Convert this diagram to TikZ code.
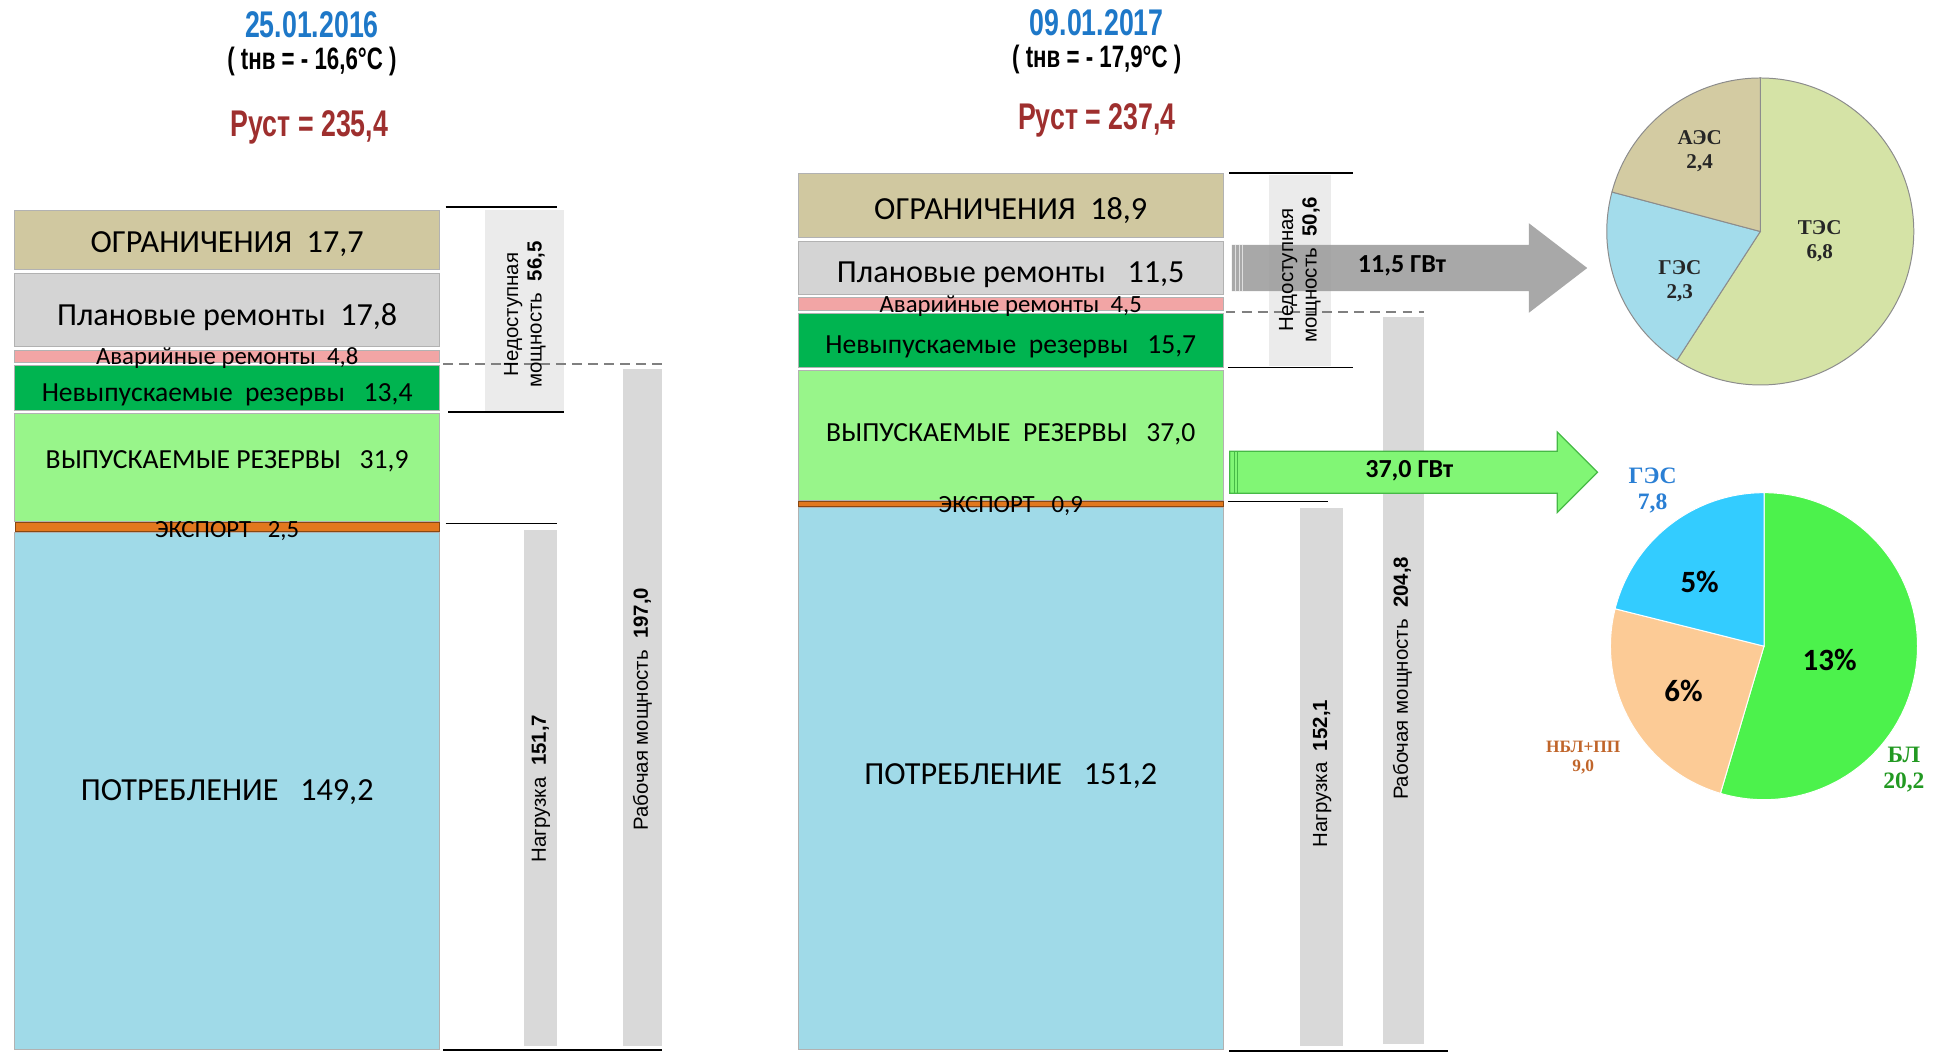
\documentclass[tikz,border=0pt]{standalone}
\usepackage{fontspec}
\setmainfont{Carlito}
\setsansfont{Liberation Sans}
\newfontfamily\condfont[FakeStretch=0.72]{Liberation Sans}
\newfontfamily\serifbold{Liberation Serif}
\usetikzlibrary{shapes.arrows}

\definecolor{tanc}{HTML}{D0C8A0}
\definecolor{grayc}{HTML}{D4D4D4}
\definecolor{pinkc}{HTML}{F2A5A5}
\definecolor{dgreen}{HTML}{00B450}
\definecolor{lgreen}{HTML}{98F58A}
\definecolor{orangec}{HTML}{E2781E}
\definecolor{blueseg}{HTML}{A0DAE8}
\definecolor{boxc}{HTML}{EBEBEB}
\definecolor{barc}{HTML}{D9D9D9}
\definecolor{titleblue}{HTML}{1E78C8}
\definecolor{rustred}{HTML}{9E2F2E}
\definecolor{tes}{HTML}{D5E3A6}
\definecolor{ges}{HTML}{A3DCEB}
\definecolor{aes}{HTML}{D3CBA2}
\definecolor{bl}{HTML}{4CF24C}
\definecolor{nbl}{HTML}{FCCB96}
\definecolor{gesb}{HTML}{33CCFF}
\definecolor{gesl}{HTML}{2A7FD4}
\definecolor{nbll}{HTML}{C0652A}
\definecolor{bll}{HTML}{229922}

\tikzstyle{seg}=[draw=black!30,line width=0.8]
\tikzstyle{big}=[font=\fontsize{26}{30}\selectfont]
\tikzstyle{mid}=[font=\fontsize{22.3}{26}\selectfont]
\tikzstyle{small}=[font=\fontsize{20}{23}\selectfont]
\tikzstyle{date}=[text=titleblue,font=\condfont\bfseries\fontsize{30}{34}\selectfont]
\tikzstyle{temp}=[font=\condfont\bfseries\fontsize{25}{28}\selectfont]
\tikzstyle{rust}=[text=rustred,font=\condfont\bfseries\fontsize{30}{34}\selectfont]
\tikzstyle{brk}=[line width=1.3]
\tikzstyle{lvl}=[draw=black!50,line width=1.3,dash pattern=on 8pt off 5pt]
\tikzstyle{vbox}=[fill=boxc]
\tikzstyle{vbar}=[fill=barc]
\tikzstyle{vtext}=[rotate=90,font=\sffamily\fontsize{16.5}{19}\selectfont,align=center,inner sep=0]
\tikzstyle{garrow}=[single arrow,fill=black!38,fill opacity=0.9,text opacity=1,inner xsep=0,inner ysep=10.5,
  text height=12,text depth=4,single arrow head extend=17.5,single arrow tip angle=75,anchor=tail,
  font=\bfseries\fontsize{21}{24}\selectfont]
\tikzstyle{larrow}=[single arrow,fill=lgreen!85!green,draw=green!45!gray,line width=1,inner xsep=0,inner ysep=8.5,
  text height=12,text depth=4,single arrow head extend=15.5,single arrow tip angle=90,anchor=tail,
  font=\bfseries\fontsize{21}{24}\selectfont]
\tikzstyle{slice}=[line width=0.8]
\tikzstyle{pielbl}=[font=\serifbold\bfseries\fontsize{17}{19}\selectfont,align=center,inner sep=0]
\tikzstyle{pct}=[font=\bfseries\fontsize{25}{28}\selectfont,inner sep=0]

\begin{document}
\begin{tikzpicture}[x=1pt,y=-1pt]
  \useasboundingbox (0,0) rectangle (1568,850);

  \node[date] (D1) at (252,20) {25.01.2016};
  \node[temp] (T1) at (252,50) {( tнв = - 16,6°C )};
  \node[rust] (R1) at (250,103) {Руст = 235,4};

  \node[date] (D2) at (886,18) {09.01.2017};
  \node[temp] (T2) at (886,48) {( tнв = - 17,9°C )};
  \node[rust] (R2) at (886,97) {Руст = 237,4};

  \draw[seg,fill=tanc] (12,170) rectangle node[big,yshift=-3] (O1) {ОГРАНИЧЕНИЯ\ \ 17,7} (355,218);
  \draw[seg,fill=grayc] (12,221) rectangle node[big,yshift=-5.5] (P1) {Плановые ремонты\ \ 17,8} (355,280);
  \draw[seg,fill=dgreen] (12,295) rectangle node[mid,yshift=-5.5] (N1) {Невыпускаемые\ \ резервы\ \ \ 13,4} (355,332);
  \draw[seg,fill=lgreen] (12,334) rectangle node[mid,yshift=4.5] (V1) {ВЫПУСКАЕМЫЕ РЕЗЕРВЫ\ \ \ 31,9} (355,421);
  \draw[seg,fill=blueseg] (12,430) rectangle node[big,yshift=-1] (C1) {ПОТРЕБЛЕНИЕ\ \ \ 149,2} (355,848);
  \draw[seg,fill=pinkc] (12,283) rectangle node[small,yshift=-1] (A1) {Аварийные ремонты\ \ 4,8} (355,293);
  \draw[draw=orangec!60!black,fill=orangec] (12,422) rectangle node[small,yshift=-3.5] (E1) {ЭКСПОРТ\ \ \ 2,5} (355,429);

  \draw[seg,fill=tanc] (645,140) rectangle node[big,yshift=-4] (O2) {ОГРАНИЧЕНИЯ\ \ 18,9} (988,192);
  \draw[seg,fill=grayc] (645,195) rectangle node[big,yshift=-5.5] (P2) {Плановые ремонты\ \ \ 11,5} (988,238);
  \draw[seg,fill=dgreen] (645,253) rectangle node[mid,yshift=-5] (N2) {Невыпускаемые\ \ резервы\ \ \ 15,7} (988,297);
  \draw[seg,fill=lgreen] (645,299) rectangle node[mid,yshift=0.5] (V2) {ВЫПУСКАЕМЫЕ\ \ РЕЗЕРВЫ\ \ \ 37,0} (988,404);
  \draw[seg,fill=blueseg] (645,410) rectangle node[big,yshift=2] (C2) {ПОТРЕБЛЕНИЕ\ \ \ 151,2} (988,848);
  \draw[seg,fill=pinkc] (645,240) rectangle node[small,yshift=-2] (A2) {Аварийные ремонты\ \ 4,5} (988,251);
  \draw[draw=orangec!60!black,fill=orangec] (645,405) rectangle node[small,yshift=-2] (E2) {ЭКСПОРТ\ \ \ 0,9} (988,409);

  \fill[vbox] (392,170) rectangle (456,332);
  \fill[vbar] (423,428) rectangle (450,845);
  \fill[vbar] (503,298) rectangle (535,845);
  \draw[brk] (360,167) -- (450,167);
  \draw[brk] (362,333) -- (456,333);
  \draw[lvl] (358,294) -- (535,294);
  \draw[brk] (360,423) -- (450,423);
  \draw[brk] (358,848) -- (535,848);
  \node[vtext] (U1) at (424,254) {Недоступная\\мощность\ \ \textbf{56,5}};
  \node[vtext] (L1) at (437,637) {Нагрузка\ \ \textbf{151,7}};
  \node[vtext] (W1) at (519,573) {Рабочая мощность\ \ \textbf{197,0}};

  \fill[vbox] (1025,141) rectangle (1075,296);
  \fill[vbar] (1050,410) rectangle (1085,845);
  \fill[vbar] (1117,256) rectangle (1150,843);
  \draw[brk] (993,140) -- (1093,140);
  \draw[brk] (992,297) -- (1093,297);
  \draw[lvl] (990,252) -- (1150,252);
  \draw[brk] (992,405) -- (1073,405);
  \draw[brk] (993,849) -- (1170,849);

  \node[garrow,minimum height=287] (G1) at (995,216.5) {\hspace*{12pt}11,5 ГВт};
  \foreach \s in {3,6,9}
    \draw[white!75!gray,line width=1] ([xshift=\s]G1.before tail) -- ([xshift=\s]G1.after tail);
  \node[vtext] (U2) at (1050,218) {Недоступная\\мощность\ \ \textbf{50,6}};
  \node[vtext] (L2) at (1068,625) {Нагрузка\ \ \textbf{152,1}};
  \node[vtext] (W2) at (1133,548) {Рабочая мощность\ \ \textbf{204,8}};

  \node[larrow,minimum height=297] (G2) at (993,381.5) {\hspace*{10pt}37,0 ГВт};
  \foreach \s in {4,7}
    \draw[green!45!gray,line width=0.8] ([xshift=\s]G2.before tail) -- ([xshift=\s]G2.after tail);

  \begin{scope}[shift={(1422,187)},y=1pt]
    \filldraw[slice,draw=black!45,fill=tes] (0,0) -- (90:124) arc[start angle=90,end angle=-122.9,radius=124] -- cycle;
    \filldraw[slice,draw=black!45,fill=ges] (0,0) -- (237.1:124) arc[start angle=237.1,end angle=165.1,radius=124] -- cycle;
    \filldraw[slice,draw=black!45,fill=aes] (0,0) -- (165.1:124) arc[start angle=165.1,end angle=90,radius=124] -- cycle;
    \node[pielbl,text=black!85] (AES) at (-49,65) {АЭС\\2,4};
    \node[pielbl,text=black!85] (GES) at (-65,-40) {ГЭС\\2,3};
    \node[pielbl,text=black!85] (TES) at (48,-8) {ТЭС\\6,8};
  \end{scope}

  \begin{scope}[shift={(1425,522)},y=1pt]
    \filldraw[slice,draw=white,fill=bl] (0,0) -- (90:124) arc[start angle=90,end angle=-106.5,radius=124] -- cycle;
    \filldraw[slice,draw=white,fill=nbl] (0,0) -- (253.5:124) arc[start angle=253.5,end angle=165.9,radius=124] -- cycle;
    \filldraw[slice,draw=white,fill=gesb] (0,0) -- (165.9:124) arc[start angle=165.9,end angle=90,radius=124] -- cycle;
    \node[pct] (P5) at (-52,52) {5\%};
    \node[pct] (P13) at (53,-11) {13\%};
    \node[pct] (P6) at (-65,-36) {6\%};
    \node[pielbl,text=gesl,font=\serifbold\bfseries\fontsize{19}{21}\selectfont] (GESB) at (-90,126) {ГЭС\\7,8};
    \node[pielbl,text=nbll,font=\serifbold\bfseries\fontsize{14}{16}\selectfont] (NBL) at (-146,-90) {НБЛ+ПП\\9,0};
    \node[pielbl,text=bll,font=\serifbold\bfseries\fontsize{19}{21}\selectfont] (BL) at (113,-100) {БЛ\\20,2};
  \end{scope}

\end{tikzpicture}
\end{document}
